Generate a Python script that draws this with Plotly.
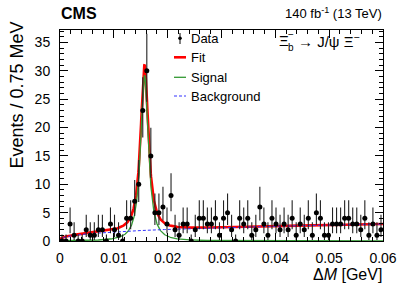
import math
import numpy as np
import plotly.graph_objects as go

# ---------------- data ----------------
bin_width = 0.00075          # GeV
x_min, x_max = 0.0, 0.06
counts = [0, 0, 3, 1, 0, 0, 2, 1, 1, 2, 2, 0, 3, 2, 1, 0, 4, 4, 7, 10,
          23, 30, 15, 5, 5, 6, 3, 8, 2, 1, 3, 3, 0, 2, 4, 4, 3, 3, 4, 1,
          4, 5, 2, 0, 4, 3, 4, 1, 2, 6, 3, 1, 4, 3, 2, 3, 2, 4, 1, 3,
          2, 4, 1, 5, 4, 1, 1, 3, 3, 3, 4, 4, 3, 3, 2, 4, 1, 3, 1, 2]

# fit model parameters
sig_amp = 29.2
sig_mean = 0.0157
sig_width = 0.00082
sig_nu = 1.3
bkg_norm = 1.6      # background level at bkg_ref
bkg_ref = 0.01
bkg_pow = 0.35

x_ticks = [0, 0.01, 0.02, 0.03, 0.04, 0.05, 0.06]
x_tick_text = ["0", "0.01", "0.02", "0.03", "0.04", "0.05", "0.06"]
y_ticks = [0, 5, 10, 15, 20, 25, 30, 35]

# ---------------- helpers ----------------
def pois_cdf(k, mu):
    s, term = 0.0, math.exp(-mu)
    for i in range(k + 1):
        s += term
        term *= mu / (i + 1)
    return s

def pois_interval(n, alpha=0.158655):
    if n == 0:
        return 0.0, -math.log(2 * alpha)
    lo, hi = 0.0, float(n)
    for _ in range(80):
        m = 0.5 * (lo + hi)
        if 1 - pois_cdf(n - 1, m) < alpha:
            lo = m
        else:
            hi = m
    low = 0.5 * (lo + hi)
    lo, hi = float(n), n + 10 * math.sqrt(n) + 10
    for _ in range(80):
        m = 0.5 * (lo + hi)
        if pois_cdf(n, m) > alpha:
            lo = m
        else:
            hi = m
    up = 0.5 * (lo + hi)
    return low, up

edges = np.arange(len(counts) + 1) * bin_width
centers = 0.5 * (edges[:-1] + edges[1:])
err_lo, err_hi = [], []
for n in counts:
    l, u = pois_interval(n)
    err_lo.append(n - l)
    err_hi.append(u - n)

xc = np.linspace(x_min, x_max, 1200)
signal = sig_amp * (1 + ((xc - sig_mean) / sig_width) ** 2 / sig_nu) ** (-(sig_nu + 1) / 2)
background = bkg_norm * (xc / bkg_ref) ** bkg_pow
fit = signal + background

FONT = "Liberation Sans, Arial, Helvetica, sans-serif"

fig = go.Figure()
fig.add_trace(go.Scatter(x=xc, y=fit, mode="lines", line=dict(color="#ff0000", width=2.6),
                         showlegend=False, hoverinfo="skip"))
fig.add_trace(go.Scatter(x=xc, y=signal, mode="lines", line=dict(color="#339933", width=1.3),
                         showlegend=False, hoverinfo="skip"))
fig.add_trace(go.Scatter(x=xc, y=background, mode="lines",
                         line=dict(color="#3333ff", width=1, dash="3px,2px"),
                         showlegend=False, hoverinfo="skip"))
fig.add_trace(go.Scatter(x=centers, y=counts, mode="markers",
                         marker=dict(color="black", size=5),
                         error_y=dict(type="data", symmetric=False, array=err_hi,
                                      arrayminus=err_lo, thickness=1.1, width=0, color="#222222"),
                         showlegend=False))

# plot area geometry (pixels)
W, H = 399, 288
L, R, T, B = 60, 16, 30, 47
pw, ph = W - L - R, H - T - B

def px(x):
    return (x - L) / pw

def py(y):
    return (H - B - y) / ph

annotations = []
shapes = []

# legend
rows = [("Data", 38.3), ("Fit", 57.3), ("Signal", 77.3), ("Background", 96.0)]
for name, yy in rows:
    annotations.append(dict(x=px(189), y=py(yy), xref="paper", yref="paper", text=name,
                            showarrow=False, xanchor="left", yanchor="middle",
                            font=dict(family=FONT, size=13, color="black")))
shapes.append(dict(type="line", xref="paper", yref="paper", x0=px(180), x1=px(180),
                   y0=py(33), y1=py(44), line=dict(color="black", width=1)))
shapes.append(dict(type="circle", xref="paper", yref="paper", x0=px(178.2), x1=px(181.8),
                   y0=py(40.1), y1=py(36.5), fillcolor="black", line=dict(color="black", width=0)))
shapes.append(dict(type="line", xref="paper", yref="paper", x0=px(174), x1=px(186),
                   y0=py(57.3), y1=py(57.3), line=dict(color="#ff0000", width=2.6)))
shapes.append(dict(type="line", xref="paper", yref="paper", x0=px(174), x1=px(186),
                   y0=py(77.3), y1=py(77.3), line=dict(color="#339933", width=1.3)))
shapes.append(dict(type="line", xref="paper", yref="paper", x0=px(174), x1=px(186),
                   y0=py(96), y1=py(96), line=dict(color="#3333ff", width=1, dash="3px,2px")))

# decay label
annotations.append(dict(x=px(276.5), y=py(40), xref="paper", yref="paper", text="Ξ",
                        showarrow=False, xanchor="left", yanchor="middle",
                        font=dict(family=FONT, size=15, color="black")))
annotations.append(dict(x=px(286.3), y=py(34.5), xref="paper", yref="paper", text="−",
                        showarrow=False, xanchor="left", yanchor="middle",
                        font=dict(family=FONT, size=10, color="black")))
annotations.append(dict(x=px(286.3), y=py(47.5), xref="paper", yref="paper", text="b",
                        showarrow=False, xanchor="left", yanchor="middle",
                        font=dict(family=FONT, size=10, color="black")))
annotations.append(dict(x=px(296), y=py(40), xref="paper", yref="paper",
                        text="→ J/ψ Ξ<sup>−</sup>",
                        showarrow=False, xanchor="left", yanchor="middle",
                        font=dict(family=FONT, size=15, color="black")))

# header
annotations.append(dict(x=px(59), y=py(13.5), xref="paper", yref="paper", text="<b>CMS</b>",
                        showarrow=False, xanchor="left", yanchor="middle",
                        font=dict(family=FONT, size=16, color="black")))
annotations.append(dict(x=px(384), y=py(13), xref="paper", yref="paper",
                        text="140 fb<sup>-1</sup> (13 TeV)",
                        showarrow=False, xanchor="right", yanchor="middle",
                        font=dict(family=FONT, size=13, color="black")))

# axis titles
annotations.append(dict(x=px(16), y=py(20), xref="paper", yref="paper",
                        text="Events / 0.75 MeV", textangle=-90,
                        showarrow=False, xanchor="center", yanchor="top",
                        font=dict(family=FONT, size=18, color="black")))
annotations.append(dict(x=px(384), y=py(274), xref="paper", yref="paper",
                        text="Δ<i>M</i> [GeV]",
                        showarrow=False, xanchor="right", yanchor="middle",
                        font=dict(family=FONT, size=16, color="black")))

fig.update_layout(
    width=W, height=H,
    margin=dict(l=L, r=R, t=T, b=B, pad=0, autoexpand=False),
    plot_bgcolor="white", paper_bgcolor="white",
    font=dict(family=FONT, size=14, color="black"),
    annotations=annotations, shapes=shapes,
    showlegend=False,
)
fig.update_xaxes(range=[x_min, x_max], tickvals=x_ticks, ticktext=x_tick_text, automargin=False,
                 ticks="inside", ticklen=8, tickwidth=1, tickcolor="black",
                 showline=True, linecolor="black", linewidth=1, mirror="ticks",
                 showgrid=False, zeroline=False, ticklabelstandoff=4,
                 tickfont=dict(family=FONT, size=14),
                 minor=dict(dtick=0.002, ticks="inside", ticklen=4, tickcolor="black", showgrid=False))
fig.update_yaxes(range=[0, 37.2], tickvals=y_ticks, automargin=False,
                 ticks="inside", ticklen=8, tickwidth=1, tickcolor="black",
                 showline=True, linecolor="black", linewidth=1, mirror="ticks",
                 showgrid=False, zeroline=False, ticklabelstandoff=6,
                 tickfont=dict(family=FONT, size=14),
                 minor=dict(dtick=1, ticks="inside", ticklen=4, tickcolor="black", showgrid=False))

fig.write_html("out.html", config={"displayModeBar": False},
               post_script="document.body.style.margin='0';document.body.style.overflow='hidden';")
